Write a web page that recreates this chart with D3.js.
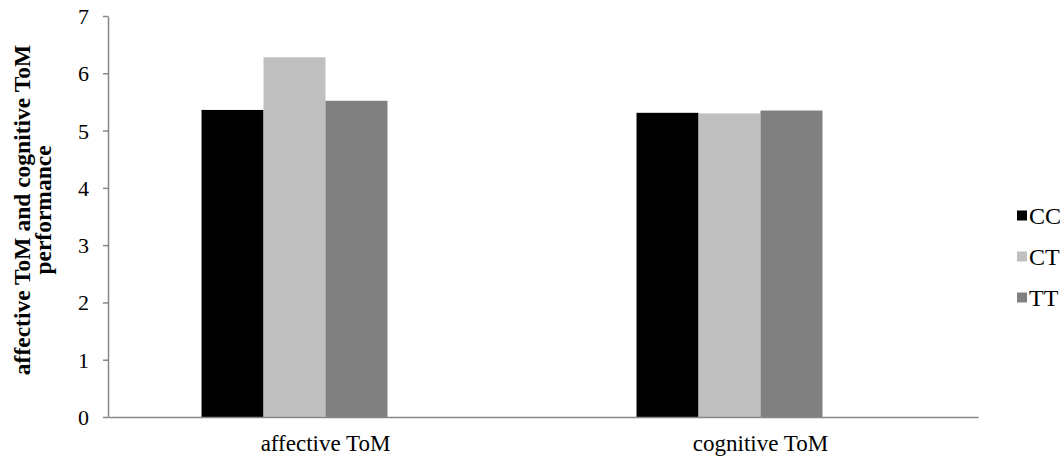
<!DOCTYPE html>
<html>
<head>
<meta charset="utf-8">
<script src="https://cdn.jsdelivr.net/npm/d3@7"></script>
<style>
  html, body { margin: 0; padding: 0; background: #fff; }
  svg { display: block; }
  svg text { font-family: "Liberation Serif", "Times New Roman", serif !important; fill: #000; }
</style>
</head>
<body>
<svg id="chart" width="1064" height="457"></svg>
<script>
const categories = ["affective ToM", "cognitive ToM"];
const series = ["CC", "CT", "TT"];
const values = {
  CC: [5.36, 5.31],
  CT: [6.28, 5.30],
  TT: [5.52, 5.35]
};
const colors = { CC: "#000000", CT: "#c0c0c0", TT: "#808080" };
const yTicks = [0, 1, 2, 3, 4, 5, 6, 7];
const yTitle = ["affective ToM and cognitive ToM", "performance"];

const svg = d3.select("#chart");
const axisColor = "#868686";
const serif = "'Liberation Serif', 'Times New Roman', serif";

const x0 = d3.scaleBand().domain(categories).range([108, 978]).padding(0);
const bw = x0.bandwidth();
const x1 = d3.scaleBand().domain(series).range([bw * 0.215, bw * 0.6425]).padding(0);
const y = d3.scaleLinear().domain([0, 7]).range([417, 16]);

// bars
const data = [];
categories.forEach((c, i) => series.forEach(s => data.push({ c, s, v: values[s][i] })));
svg.append("g").selectAll("rect").data(data).join("rect")
  .attr("x", d => x0(d.c) + x1(d.s))
  .attr("y", d => y(d.v))
  .attr("width", x1.bandwidth())
  .attr("height", d => y(0) - y(d.v))
  .attr("fill", d => colors[d.s]);

// y axis
const yAxis = svg.append("g").attr("transform", "translate(108,0)")
  .call(d3.axisLeft(y).tickValues(yTicks).tickSize(5).tickSizeOuter(0).tickFormat(d3.format("d")));
yAxis.attr("font-family", null).attr("font-size", null);
yAxis.select(".domain").attr("stroke", axisColor).attr("stroke-width", 1.5);
yAxis.selectAll(".tick line").attr("stroke", axisColor).attr("stroke-width", 1.5);
yAxis.selectAll(".tick text").attr("x", -19).attr("dy", "0.34em")
  .style("font-family", serif).style("font-size", "22px").attr("fill", "#000");

// x axis
const xAxis = svg.append("g").attr("transform", "translate(0,417)")
  .call(d3.axisBottom(x0).tickSize(0).tickSizeOuter(0));
xAxis.attr("font-family", null).attr("font-size", null);
xAxis.select(".domain").attr("stroke", axisColor).attr("stroke-width", 1.5);
xAxis.selectAll(".tick text").attr("y", 0).attr("dy", 34)
  .style("font-family", serif).style("font-size", "23px").attr("fill", "#000");

// y title
const yt = svg.append("text")
  .attr("transform", "translate(30,210) rotate(-90)")
  .attr("text-anchor", "middle")
  .attr("font-weight", "bold")
  .style("font-family", serif)
  .style("font-size", "23.5px");
yt.selectAll("tspan").data(yTitle).join("tspan")
  .attr("x", 0).attr("dy", (d, i) => i === 0 ? 0 : 21)
  .text(d => d);

// legend
const lg = svg.append("g").attr("transform", "translate(1017,216)");
const items = lg.selectAll("g").data(series).join("g")
  .attr("transform", (d, i) => `translate(0,${i * 41})`);
items.append("rect").attr("x", 0).attr("y", -5.5).attr("width", 10).attr("height", 10)
  .attr("fill", d => colors[d]);
items.append("text").attr("x", 12).attr("y", 8)
  .style("font-family", serif).style("font-size", "24px").text(d => d);
</script>
</body>
</html>
